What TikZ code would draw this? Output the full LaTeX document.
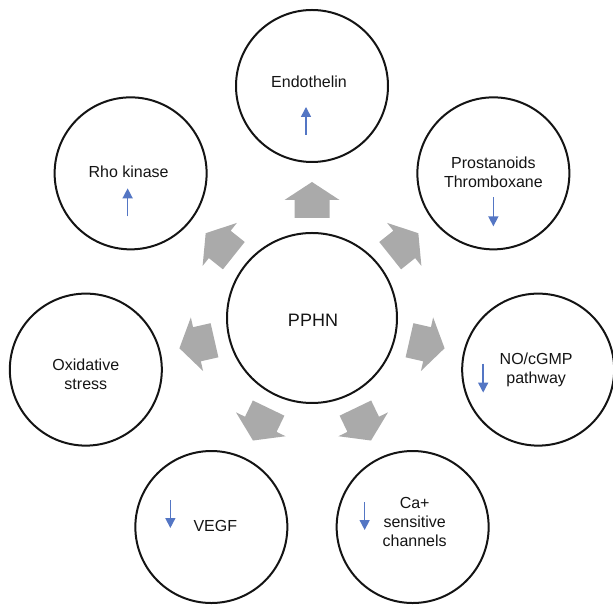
\documentclass[tikz,border=0pt]{standalone}
\usepackage{fontspec}
\setmainfont{Liberation Sans}
\usetikzlibrary{arrows.meta,calc}
\definecolor{blk}{RGB}{20,20,20}
\definecolor{garrow}{RGB}{170,170,170}
\definecolor{barrow}{RGB}{84,118,196}
\begin{document}
\begin{tikzpicture}[x=1pt,y=1pt,
 outer/.style={circle,draw=blk,line width=2pt,minimum size=152pt,inner sep=0pt},
 hub/.style={circle,draw=blk,line width=2pt,minimum size=170pt,inner sep=0pt},
 lbl/.style={align=center,font=\fontsize{16}{19}\selectfont,text=blk,inner sep=0pt},
 trend/.style={draw=barrow,line width=1.5pt,-{Triangle[width=10pt,length=10pt]}},
 blockarrow/.style={fill=garrow}]
\useasboundingbox (0,0) rectangle (613,607);
\coordinate (m) at (312,289);
\node[hub] (c) at (m) {};
\node[lbl,font=\fontsize{18}{21}\selectfont] (ct) at ($(m)+(1,-2)$) {PPHN};
% outer circles
\node[outer] (o1) at ($(m)+(90:232)$) {};
\node[outer] (o2) at ($(m)+(38.571:232)$) {};
\node[outer] (o3) at ($(m)+(-12.857:232)$) {};
\node[outer] (o4) at ($(m)+(-64.286:232)$) {};
\node[outer] (o5) at ($(m)+(-115.714:232)$) {};
\node[outer] (o6) at ($(m)+(-167.143:232)$) {};
\node[outer] (o7) at ($(m)+(141.429:232)$) {};
% block arrows
\foreach \a in {90,38.571,-12.857,-64.286,-115.714,-167.143,141.429}{
  \begin{scope}[shift={(m)},rotate=\a-90]
    \fill[blockarrow] (-17.5,100) -- (17.5,100) -- (17.5,118) -- (27.5,118)
      -- (0,136) -- (-27.5,118) -- (-17.5,118) -- cycle;
  \end{scope}
}
% labels
\node[lbl] (t1) at ($(o1)+(-3,4)$) {Endothelin};
\node[lbl] (t2) at ($(o2)+(0,1)$) {Prostanoids\\Thromboxane};
\node[lbl] (t3) at ($(o3)+(-2,0)$) {NO/cGMP\\pathway};
\node[lbl] (t4) at ($(o4)+(2,5)$) {Ca+\\sensitive\\channels};
\node[lbl] (t5) at ($(o5)+(4,1)$) {VEGF};
\node[lbl] (t6) at ($(o6)+(0,-5)$) {Oxidative\\stress};
\node[lbl] (t7) at ($(o7)+(-2,2)$) {Rho kinase};
% trend arrows
\draw[trend] ($(o1)+(-6,-49)$) -- ($(o1)+(-6,-21)$);
\draw[trend] ($(o2)+(0,-24)$) -- ($(o2)+(0,-53)$);
\draw[trend] ($(o3)+(-55,6)$) -- ($(o3)+(-55,-23)$);
\draw[trend] ($(o4)+(-48,25)$) -- ($(o4)+(-48,-3)$);
\draw[trend] ($(o5)+(-41,27)$) -- ($(o5)+(-41,-1)$);
\draw[trend] ($(o7)+(-3,-43)$) -- ($(o7)+(-3,-15)$);
\end{tikzpicture}
\end{document}
